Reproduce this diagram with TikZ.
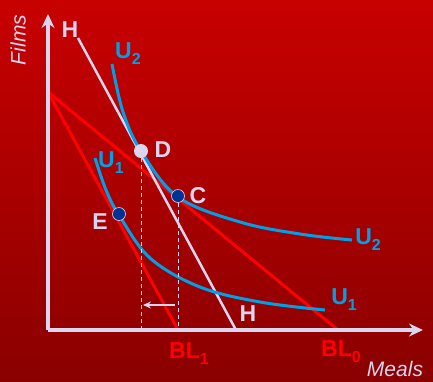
\documentclass[tikz,border=0pt]{standalone}
\usepackage{fontspec}
\setmainfont{Liberation Sans}
\usetikzlibrary{arrows.meta, positioning}

\definecolor{lavender}{RGB}{218,214,240}
\definecolor{curveblue}{RGB}{0,160,232}
\definecolor{dotblue}{RGB}{0,50,150}
\definecolor{bgtop}{RGB}{200,0,0}
\definecolor{bgbottom}{RGB}{138,0,0}

\newcommand{\lowidx}[1]{\raisebox{-0.5ex}{\fontsize{16}{16}\selectfont #1}}

\begin{document}
\begin{tikzpicture}[
    x=1pt, y=-1pt, >=Stealth,
    lbl/.style={font=\fontsize{23}{25}\selectfont\bfseries, inner sep=0pt},
    axislbl/.style={font=\fontsize{21}{23}\selectfont\itshape, text=lavender, inner sep=0pt}
  ]
  \useasboundingbox (0,0) rectangle (433,381);
  \shade[top color=bgtop, bottom color=bgbottom] (0,0) rectangle (433,381);

  % axes and budget line corners
  \coordinate (O) at (48,330);
  \coordinate (ytop) at (48,14);
  \coordinate (xend) at (423,330);
  \coordinate (A) at (48,92);
  \coordinate (bl0) at (338,330);
  \coordinate (bl1) at (178,330);
  \coordinate (htop) at (78,38);
  \coordinate (hbot) at (236,330);

  % budget lines
  \draw[red, line width=3pt] (A) -- (bl0);
  \draw[red, line width=3pt] (A) -- (bl1);
  \draw[lavender, line width=2.5pt] (htop) -- (hbot);

  % indifference curves
  \draw[curveblue, line width=3pt] plot[smooth, tension=0.6] coordinates
    {(112,64) (123,112) (141,151) (178,197) (240,222) (300,234) (352,240)};
  \draw[curveblue, line width=3pt] plot[smooth, tension=0.6] coordinates
    {(95,158) (106,190) (119,215) (150,258) (200,287) (260,302) (325,310)};

  \node[circle, fill=lavender, minimum size=14pt, inner sep=0pt] (D) at (141,151) {};
  \node[circle, fill=dotblue, draw=lavender, line width=0.6pt,
        minimum width=12pt, minimum height=13pt, inner sep=0pt] (C) at (178,196) {};
  \node[circle, fill=dotblue, draw=lavender, line width=0.6pt,
        minimum width=12pt, minimum height=13pt, inner sep=0pt] (E) at (119,214) {};

  \coordinate (Dfoot) at (141,330);
  \coordinate (Cfoot) at (178,330);
  \draw[lavender, line width=1pt, dash pattern=on 4pt off 3pt] (D.south) -- (Dfoot);
  \draw[lavender, line width=1pt, dash pattern=on 4pt off 3pt] (C.south) -- (Cfoot);

  \coordinate (shiftstart) at (175,305);
  \coordinate (shiftend) at (143,305);
  \draw[lavender, line width=1.5pt, -{Stealth[length=8pt, width=7pt]}] (shiftstart) -- (shiftend);

  % axes
  \draw[lavender, line width=4pt, -{Stealth[length=14pt, width=13pt]}] (O) -- (ytop);
  \draw[lavender, line width=4pt, -{Stealth[length=14pt, width=13pt]}] (O) -- (xend);

  % labels
  \node[lbl, text=lavender] (Htop) at (70,30) {H};
  \node[lbl, text=lavender] (Hbot) at (248,314) {H};
  \node[lbl, text=lavender] (Dlbl) at (163,150) {D};
  \node[lbl, text=lavender] (Clbl) at (198,196) {C};
  \node[lbl, text=lavender] (Elbl) at (100,222) {E};
  \node[lbl, text=curveblue] (U2top) at (128,54) {U\lowidx{2}};
  \node[lbl, text=curveblue] (U1left) at (111,163) {U\lowidx{1}};
  \node[lbl, text=curveblue] (U2right) at (368,240) {U\lowidx{2}};
  \node[lbl, text=curveblue] (U1right) at (344,300) {U\lowidx{1}};
  \node[lbl, text=red] (BL1lbl) at (189,354) {BL\lowidx{1}};
  \node[lbl, text=red] (BL0lbl) at (341,352) {BL\lowidx{0}};
  \node[axislbl, rotate=90] (films) at (18,40) {Films};
  \node[axislbl] (meals) at (395,369) {Meals};
\end{tikzpicture}
\end{document}
